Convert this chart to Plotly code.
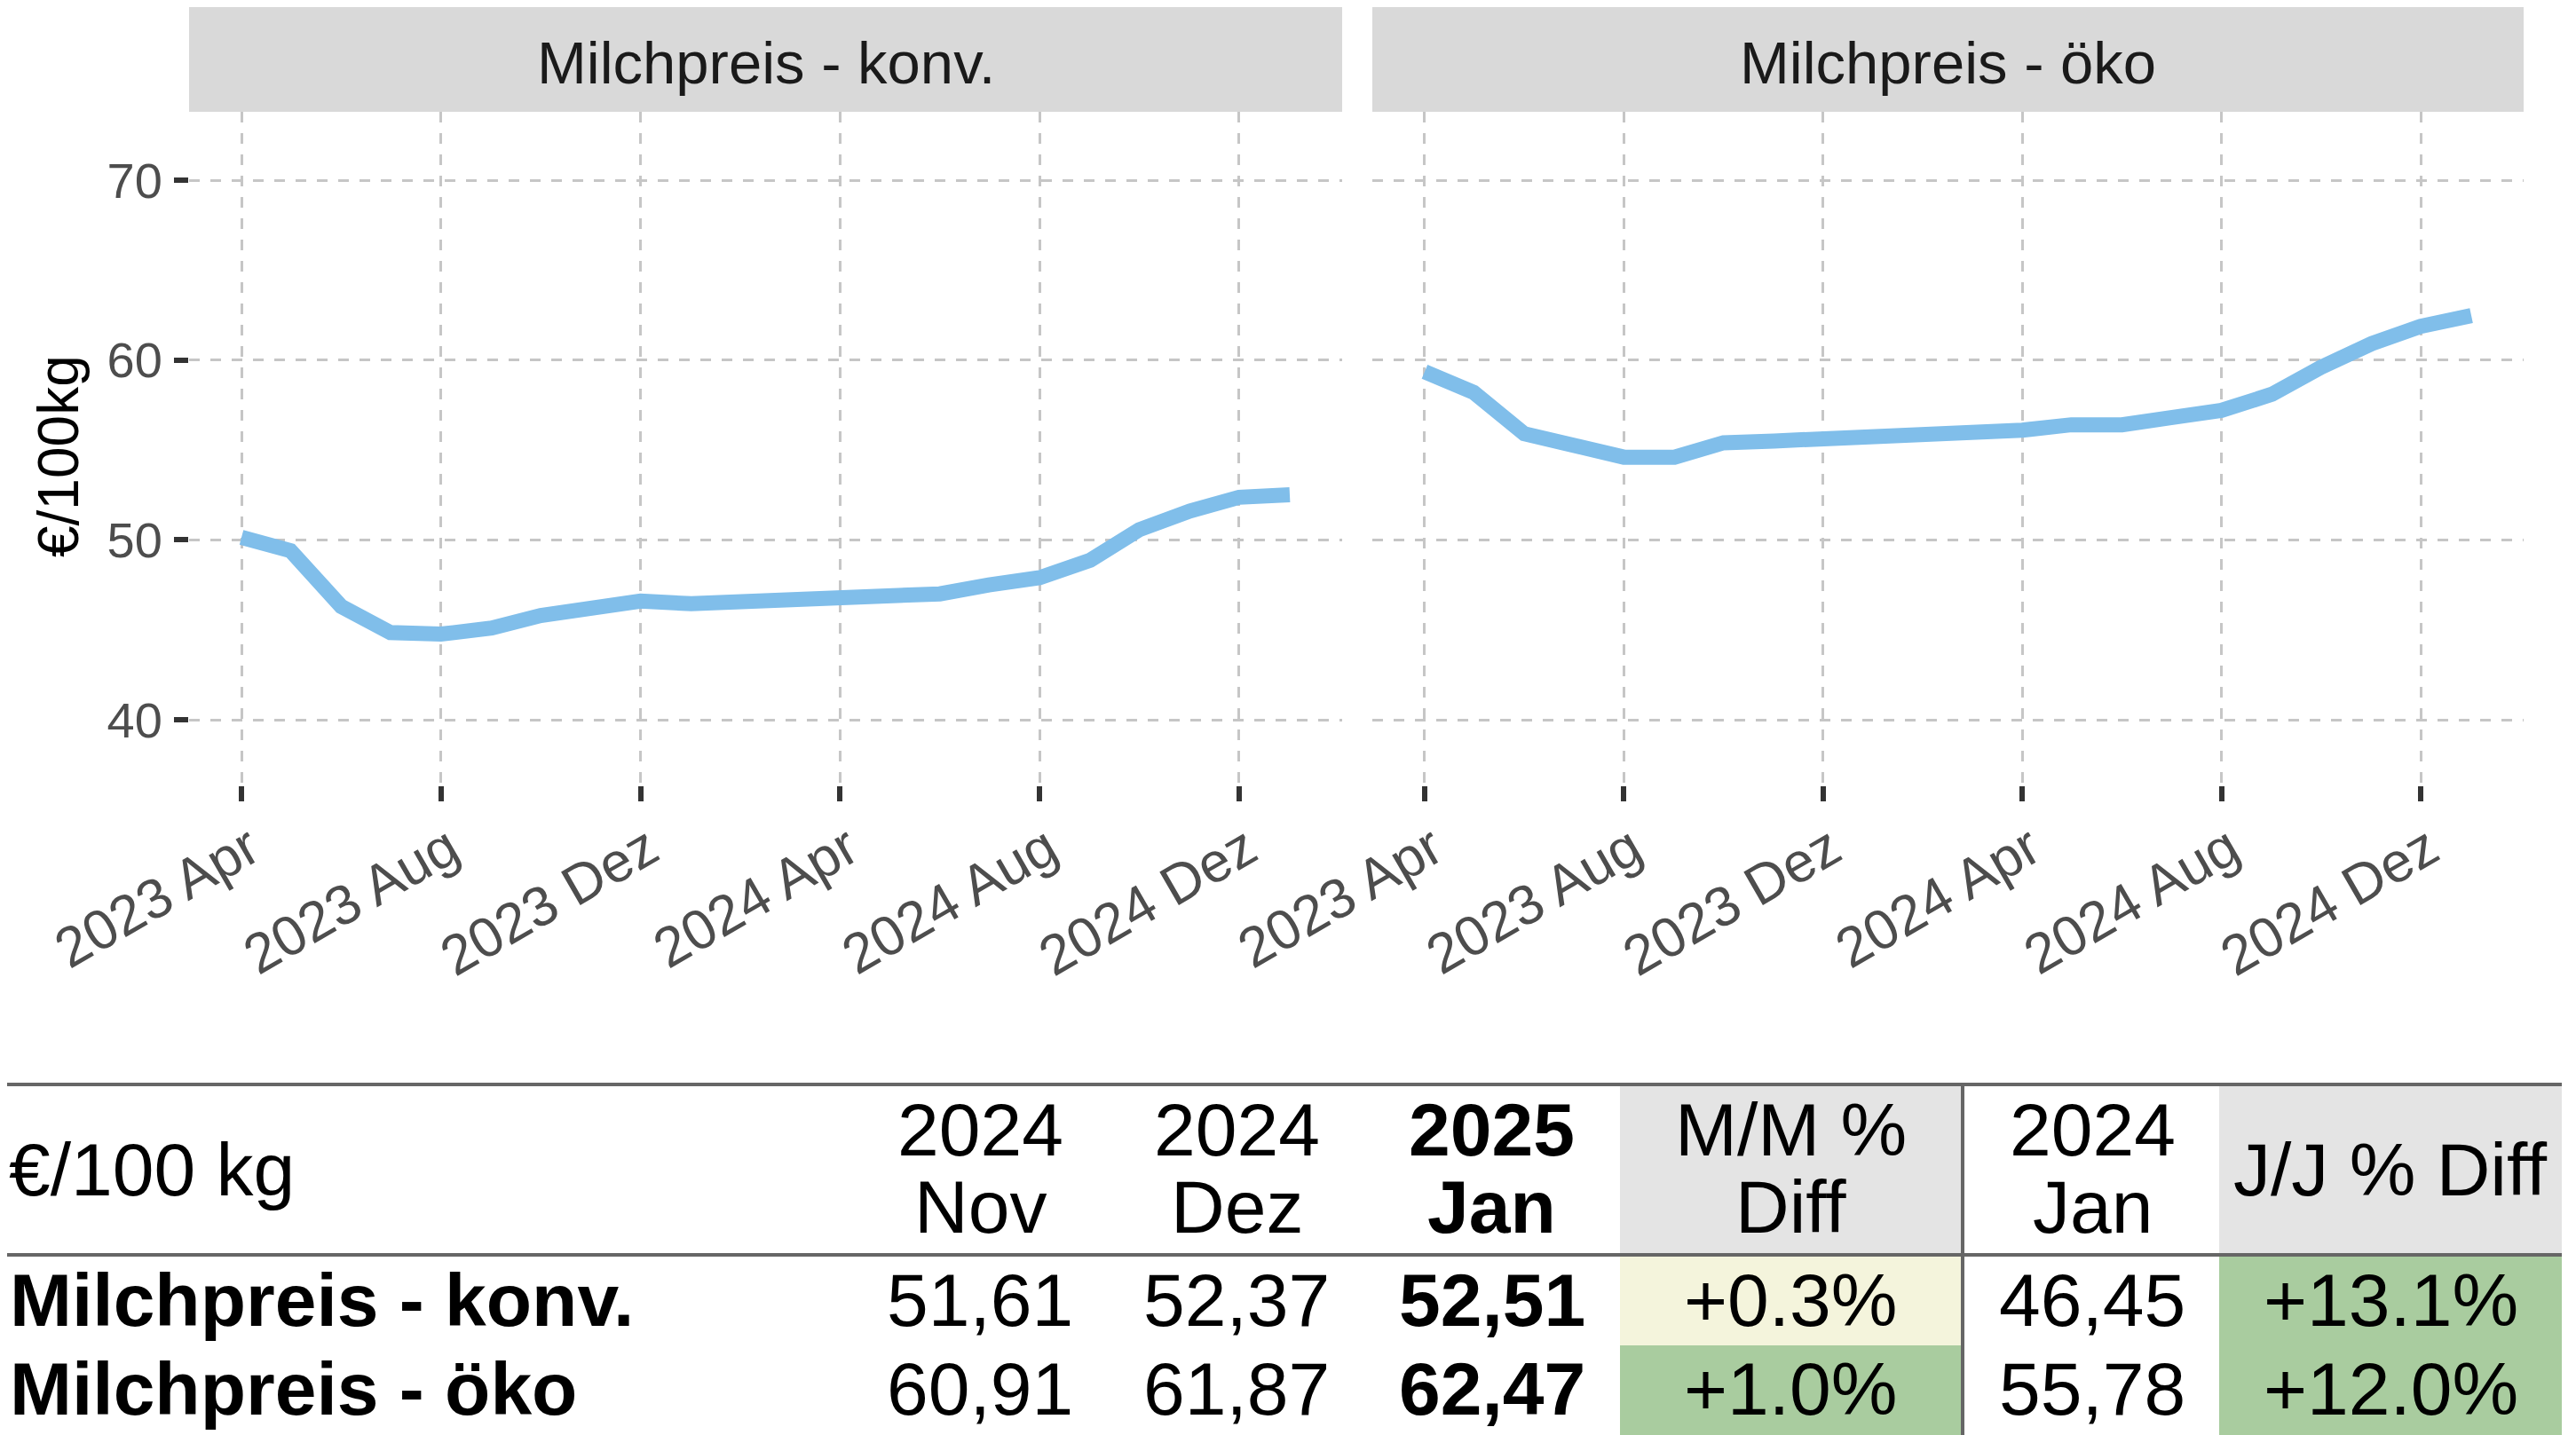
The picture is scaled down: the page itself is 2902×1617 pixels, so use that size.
import plotly.graph_objects as go

# ---------------- data ----------------
months = ["2023-04-01", "2023-05-01", "2023-06-01", "2023-07-01", "2023-08-01", "2023-09-01",
          "2023-10-01", "2023-11-01", "2023-12-01", "2024-01-01", "2024-02-01", "2024-03-01",
          "2024-04-01", "2024-05-01", "2024-06-01", "2024-07-01", "2024-08-01", "2024-09-01",
          "2024-10-01", "2024-11-01", "2024-12-01", "2025-01-01"]
konv = [50.14, 49.4, 46.3, 44.85, 44.76, 45.1, 45.8, 46.3, 46.6, 46.45, 46.6, 46.74,
        46.9, 46.97, 47.0, 47.5, 47.9, 48.87, 50.57, 51.61, 52.37, 52.51]
oeko = [59.35, 58.2, 55.9, 55.2, 54.6, 54.6, 55.4, 55.5, 55.6, 55.78, 55.9, 56.1,
        56.1, 56.4, 56.4, 56.8, 57.2, 58.1, 59.6, 60.91, 61.87, 62.47]
panel_titles = ["Milchpreis - konv.", "Milchpreis - öko"]
tick_dates = ["2023-04-01", "2023-08-01", "2023-12-01", "2024-04-01", "2024-08-01", "2024-12-01"]
tick_labels = ["2023 Apr", "2023 Aug", "2023 Dez", "2024 Apr", "2024 Aug", "2024 Dez"]
y_ticks = [40, 50, 60, 70]
y_title = "€/100kg"

# table data
table_unit = "€/100 kg"
row_labels = ["Milchpreis - konv.", "Milchpreis - öko"]
hdr_nov = ["2024", "Nov"]
hdr_dez = ["2024", "Dez"]
hdr_jan = ["2025", "Jan"]
hdr_mm = ["M/M %", "Diff"]
hdr_prev = ["2024", "Jan"]
hdr_yy = "J/J % Diff"
val_nov = [51.61, 60.91]
val_dez = [52.37, 61.87]
val_jan = [52.51, 62.47]
val_prev = [46.45, 55.78]
pct_mm = [0.3, 1.0]
pct_yy = [13.1, 12.0]

# ---------------- geometry helpers ----------------
W, H = 2902, 1617
OFF = 8  # page body margin compensation
def PX(x): return (x - OFF) / W
def PY(y): return 1 - (y - OFF) / H

FONT = "Liberation Sans, Arial, sans-serif"
TFONT = "Liberation Sans, Arial, sans-serif"
LINE_COLOR = "#80BEEA"
GRID = "#C6C6C6"

fig = go.Figure()
fig.add_trace(go.Scatter(x=months, y=konv, mode="lines", xaxis="x", yaxis="y",
                         line=dict(color=LINE_COLOR, width=17), showlegend=False))
fig.add_trace(go.Scatter(x=months, y=oeko, mode="lines", xaxis="x2", yaxis="y2",
                         line=dict(color=LINE_COLOR, width=17), showlegend=False))

xr = ["2023-02-27 23:00", "2025-02-02 01:00"]
common_x = dict(type="date", range=xr, tickmode="array", tickvals=tick_dates, ticktext=tick_labels,
                tickangle=-30, ticks="outside", ticklen=17, tickwidth=6, tickcolor="#333333",
                ticklabelstandoff=-8, ticklabelshift=9,
                showgrid=True, gridcolor=GRID, gridwidth=2.5, griddash="12px,12px",
                showline=False, zeroline=False, automargin=False,
                tickfont=dict(family=FONT, size=63, color="#4D4D4D"))
panels = [(213, 1512), (1546, 2843)]
ytop, ybot = 126, 885
yrange = [36.35, 73.8]
common_y = dict(range=yrange, tickmode="array", tickvals=y_ticks,
                showgrid=True, gridcolor=GRID, gridwidth=2.5, griddash="12px,12px",
                showline=False, zeroline=False, automargin=False)

fig.update_layout(
    width=W, height=H, margin=dict(l=0, r=0, t=0, b=0, pad=0),
    paper_bgcolor="white", plot_bgcolor="white",
    xaxis=dict(domain=[PX(panels[0][0]), PX(panels[0][1])], anchor="y", **common_x),
    xaxis2=dict(domain=[PX(panels[1][0]), PX(panels[1][1])], anchor="y2", **common_x),
    yaxis=dict(domain=[PY(ybot), PY(ytop)], anchor="x", ticks="outside", ticklen=16, tickwidth=6,
               tickcolor="#333333", ticklabelstandoff=2,
               tickfont=dict(family=FONT, size=56, color="#4D4D4D"), **common_y),
    yaxis2=dict(domain=[PY(ybot), PY(ytop)], anchor="x2", matches="y", showticklabels=False,
                ticks="", **common_y),
)

shapes = []
annotations = []

# strips
for (x0, x1), title in zip(panels, panel_titles):
    shapes.append(dict(type="rect", xref="paper", yref="paper", x0=PX(x0), x1=PX(x1),
                       y0=PY(126), y1=PY(8), fillcolor="#D9D9D9", line=dict(width=0), layer="below"))
    annotations.append(dict(xref="paper", yref="paper", x=PX((x0 + x1) / 2), y=PY(70),
                            text=title, showarrow=False, xanchor="center", yanchor="middle",
                            font=dict(family=FONT, size=67, color="#1A1A1A")))

# y title
annotations.append(dict(xref="paper", yref="paper", x=PX(66), y=PY(514), text=y_title,
                        showarrow=False, textangle=-90, xanchor="center", yanchor="middle",
                        font=dict(family=FONT, size=64, color="black")))

# ---------------- table ----------------
T_TOP, T_HDR, T_R1, T_BOT = 1222, 1414, 1516, 1630
T_RIGHT = 2886
col_c = [1104, 1393, 1681, 2017, 2357, 2693]
mm_x = (1825, 2210)
yy_x = (2500, T_RIGHT)
VLINE = 2211
GRAY_HDR = "#E4E4E4"
GREEN = "#A9CC9F"
YELLOW = "#F4F4DC"
TS = 84

def rect(x0, x1, y0, y1, color):
    shapes.append(dict(type="rect", xref="paper", yref="paper", x0=PX(x0), x1=PX(x1),
                       y0=PY(y1), y1=PY(y0), fillcolor=color, line=dict(width=0)))

def txt(x, y, s, bold=False, anchor="center"):
    annotations.append(dict(xref="paper", yref="paper", x=PX(x), y=PY(y),
                            text=f"<b>{s}</b>" if bold else s, showarrow=False,
                            xanchor=anchor, yanchor="middle",
                            font=dict(family=TFONT, size=TS, color="black")))

def fmt(v): return f"{v:.2f}".replace(".", ",")
def fmtp(v): return f"{v:+.1f}%"
def pct_color(v): return GREEN if v >= 0.5 else YELLOW

# header backgrounds
rect(mm_x[0], mm_x[1], T_TOP, T_HDR, GRAY_HDR)
rect(yy_x[0], yy_x[1], T_TOP, T_HDR, GRAY_HDR)
# body backgrounds
row_bounds = [(T_HDR, T_R1), (T_R1, T_BOT)]
for i, (a, b) in enumerate(row_bounds):
    rect(mm_x[0], mm_x[1], a, b, pct_color(pct_mm[i]))
    rect(yy_x[0], yy_x[1], a, b, pct_color(pct_yy[i]))

# lines
for yl in (T_TOP, T_HDR):
    shapes.append(dict(type="line", xref="paper", yref="paper", x0=PX(0), x1=PX(T_RIGHT),
                       y0=PY(yl), y1=PY(yl), line=dict(color="#666666", width=4)))
shapes.append(dict(type="line", xref="paper", yref="paper", x0=PX(VLINE), x1=PX(VLINE),
                   y0=PY(T_TOP), y1=PY(T_BOT), line=dict(color="#666666", width=4)))

# header text
H1, H2, HM = 1273, 1360, 1318
txt(8, HM, table_unit, anchor="left")
for c, hdr, bold in zip([col_c[0], col_c[1], col_c[2], col_c[3], col_c[4]],
                        [hdr_nov, hdr_dez, hdr_jan, hdr_mm, hdr_prev],
                        [False, False, True, False, False]):
    txt(c, H1, hdr[0], bold)
    txt(c, H2, hdr[1], bold)
txt(col_c[5], HM, hdr_yy)

# body text
row_y = [1465, 1565]
for i in range(2):
    ry = row_y[i]
    txt(9, ry, row_labels[i], bold=True, anchor="left")
    txt(col_c[0], ry, fmt(val_nov[i]))
    txt(col_c[1], ry, fmt(val_dez[i]))
    txt(col_c[2], ry, fmt(val_jan[i]), bold=True)
    txt(col_c[3], ry, fmtp(pct_mm[i]))
    txt(col_c[4], ry, fmt(val_prev[i]))
    txt(col_c[5], ry, fmtp(pct_yy[i]))

fig.update_layout(shapes=shapes, annotations=annotations)
fig.write_html("out.html")
